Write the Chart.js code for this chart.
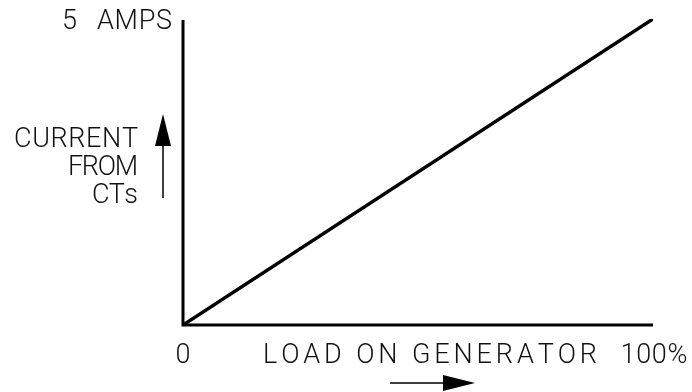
<!DOCTYPE html>
<html>
<head>
<meta charset="utf-8">
<script src="https://cdn.jsdelivr.net/npm/chart.js@4"></script>
<style>
  html, body { margin: 0; padding: 0; background: #fff; }
  #wrap { width: 692px; height: 392px; position: relative; }
</style>
</head>
<body>
<div id="wrap"><canvas id="ctChart"></canvas></div>
<script>
// load on the generator (%) vs current coming out of the CTs (amps)
const loadPct = [0, 100];
const currentAmps = [0, 5];

// axis labels
const xStartLabel = '0';
const xEndLabel = '100%';
const xTitle = 'LOAD ON GENERATOR';
const yTopLabel = '5 AMPS';
const yTitle = ['CURRENT', 'FROM', 'CTs'];

const labelFont = '300 27px Roboto, "DejaVu Sans", sans-serif';

// draws text char by char, spread so it covers the given width
function drawSpaced(ctx, text, x, y, width, align) {
    const chars = text.split('');
    const natural = chars.reduce((s, c) => s + ctx.measureText(c).width, 0);
    const gap = chars.length > 1 ? (width - natural) / (chars.length - 1) : 0;
    let cx = align === 'right' ? x - width : (align === 'center' ? x - width / 2 : x);
    ctx.textAlign = 'left';
    chars.forEach(c => {
        ctx.fillText(c, cx, y);
        cx += ctx.measureText(c).width + gap;
    });
}

function arrowHead(ctx, tipX, tipY, dir, len, half) {
    ctx.beginPath();
    if (dir === 'up') {
        ctx.moveTo(tipX, tipY);
        ctx.lineTo(tipX - half, tipY + len);
        ctx.lineTo(tipX + half, tipY + len);
    } else {
        ctx.moveTo(tipX, tipY);
        ctx.lineTo(tipX - len, tipY - half);
        ctx.lineTo(tipX - len, tipY + half);
    }
    ctx.closePath();
    ctx.fill();
}

const axesPlugin = {
    id: 'axesPlugin',
    beforeDatasetsDraw: (chart) => {
        const ctx = chart.ctx;
        const a = chart.chartArea;
        ctx.save();
        ctx.strokeStyle = '#000';
        ctx.lineWidth = 3;
        ctx.beginPath();
        ctx.moveTo(a.left, a.top + 1);
        ctx.lineTo(a.left, a.bottom);
        ctx.lineTo(a.right, a.bottom);
        ctx.stroke();
        ctx.restore();
    }
};

const labelsPlugin = {
    id: 'labelsPlugin',
    afterDraw: (chart) => {
        const ctx = chart.ctx;
        const xs = chart.scales.x;
        const ys = chart.scales.y;
        const a = chart.chartArea;
        ctx.save();
        ctx.fillStyle = '#111';
        ctx.font = labelFont;
        ctx.textBaseline = 'alphabetic';

        // top of the current axis
        const topY = ys.getPixelForValue(currentAmps[1]);
        ctx.textAlign = 'left';
        ctx.fillText(yTopLabel[0], 62, topY + 10);
        drawSpaced(ctx, yTopLabel.slice(2), a.left - 11, topY + 10, 75, 'right');

        // current axis title + arrow pointing up
        const titleWidths = [124, 70, 46];
        yTitle.forEach((t, i) => {
            drawSpaced(ctx, t, a.left - 45, 147 + i * 28, titleWidths[i], 'right');
        });
        const arrX = a.left - 20;
        ctx.fillStyle = '#000';
        ctx.fillRect(arrX - 0.75, 140, 1.5, 58);
        arrowHead(ctx, arrX, 114, 'up', 32, 8);

        // load axis labels
        ctx.fillStyle = '#111';
        const baseY = a.bottom + 38;
        ctx.textAlign = 'center';
        ctx.fillText(xStartLabel, xs.getPixelForValue(loadPct[0]), baseY);
        drawSpaced(ctx, xEndLabel, xs.getPixelForValue(loadPct[1]) + 1, baseY, 67, 'center');
        drawSpaced(ctx, xTitle, 263, baseY, 334, 'left');

        // arrow pointing right under the title
        ctx.fillStyle = '#000';
        ctx.fillRect(390, 382.25, 56, 1.5);
        arrowHead(ctx, 475, 383, 'right', 32, 8);
        ctx.restore();
    }
};

const ctx = document.getElementById('ctChart').getContext('2d');
const chart = new Chart(ctx, {
    type: 'line',
    data: {
        datasets: [{
            data: loadPct.map((x, i) => ({ x: x, y: currentAmps[i] })),
            borderColor: '#000',
            borderWidth: 3.5,
            pointRadius: 0,
            tension: 0,
            fill: false
        }]
    },
    options: {
        responsive: true,
        maintainAspectRatio: false,
        animation: false,
        layout: {
            padding: { left: 183, right: 39, top: 19, bottom: 67 }
        },
        scales: {
            x: { type: 'linear', min: 0, max: 100, display: false },
            y: { min: 0, max: 5, display: false }
        },
        plugins: {
            legend: { display: false },
            tooltip: { enabled: false }
        }
    },
    plugins: [axesPlugin, labelsPlugin]
});
</script>
</body>
</html>
